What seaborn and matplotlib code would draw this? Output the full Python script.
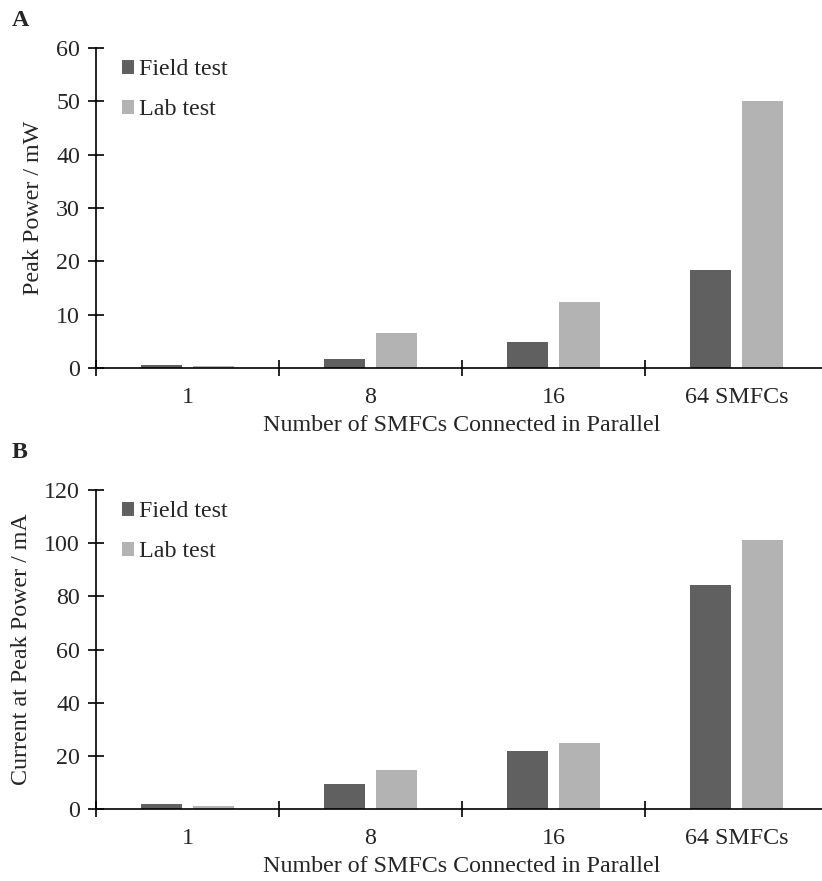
import matplotlib
matplotlib.use("Agg")
import matplotlib.pyplot as plt
import seaborn as sns
import pandas as pd
from matplotlib.ticker import FixedLocator

categories = ["1", "8", "16", "64 SMFCs"]
series = ["Field test", "Lab test"]
power_field = [0.5, 1.7, 4.8, 18.4]
power_lab = [0.4, 6.6, 12.4, 50.1]
current_field = [2.0, 9.5, 21.8, 84.4]
current_lab = [1.0, 14.7, 25.0, 101.3]

sns.set_theme(style="white")
plt.rcParams["font.family"] = ["Liberation Serif", "DejaVu Serif"]
FS = 17.3

def long_df(field, lab):
    rows = []
    for c, f, l in zip(categories, field, lab):
        rows.append({"cat": c, "series": series[0], "val": f})
        rows.append({"cat": c, "series": series[1], "val": l})
    return pd.DataFrame(rows)

fig = plt.figure(figsize=(8.22, 8.81), dpi=100)
W = 822
H = 881
left = 96 / W
right_px = 828
axA = fig.add_axes([left, 1 - 368 / H, (right_px - 96) / W, (368 - 48) / H])
axB = fig.add_axes([left, 1 - 809 / H, (right_px - 96) / W, (809 - 490) / H])

palette = {"Field test": "#606060", "Lab test": "#b3b3b3"}

def draw(ax, field, lab, ymax, step, ylabel):
    df = long_df(field, lab)
    sns.barplot(data=df, x="cat", y="val", hue="series", order=categories,
                hue_order=series, palette=palette, width=0.57, gap=0.21,
                ax=ax, errorbar=None, saturation=1, linewidth=0)
    ax.set_xlim(-0.5, 3.5)
    ax.set_ylim(0, ymax)
    ax.set_yticks(range(0, ymax + 1, step))
    ax.tick_params(axis="y", direction="inout", length=11, width=1.2,
                   labelsize=FS, color="black", left=True, pad=6)
    ax.xaxis.set_minor_locator(FixedLocator([-0.5, 0.5, 1.5, 2.5, 3.5]))
    ax.tick_params(axis="x", which="major", length=0, labelsize=FS, pad=14)
    ax.tick_params(axis="x", which="minor", direction="inout", length=11,
                   width=1.2, color="black", bottom=True)
    for s in ["top", "right"]:
        ax.spines[s].set_visible(False)
    for s in ["left", "bottom"]:
        ax.spines[s].set_color("black")
        ax.spines[s].set_linewidth(1.2)
    ax.set_xlabel("Number of SMFCs Connected in Parallel", fontsize=FS, labelpad=5)
    ax.set_ylabel(ylabel, fontsize=FS, labelpad=9)
    leg = ax.legend(loc="upper left", bbox_to_anchor=(0.022, 0.995), frameon=False,
                    fontsize=FS, handlelength=0.5, handleheight=0.5,
                    handletextpad=0.2, labelspacing=0.8, borderaxespad=0)
    return leg

draw(axA, power_field, power_lab, 60, 10, "Peak Power / mW")
draw(axB, current_field, current_lab, 120, 20, "Current at Peak Power / mA")

fig.text(12 / W, 1 - 20 / H, "A", fontsize=FS, fontweight="bold", va="center", ha="left")
fig.text(12 / W, 1 - 452 / H, "B", fontsize=FS, fontweight="bold", va="center", ha="left")

fig.savefig("out.png", dpi=100)
